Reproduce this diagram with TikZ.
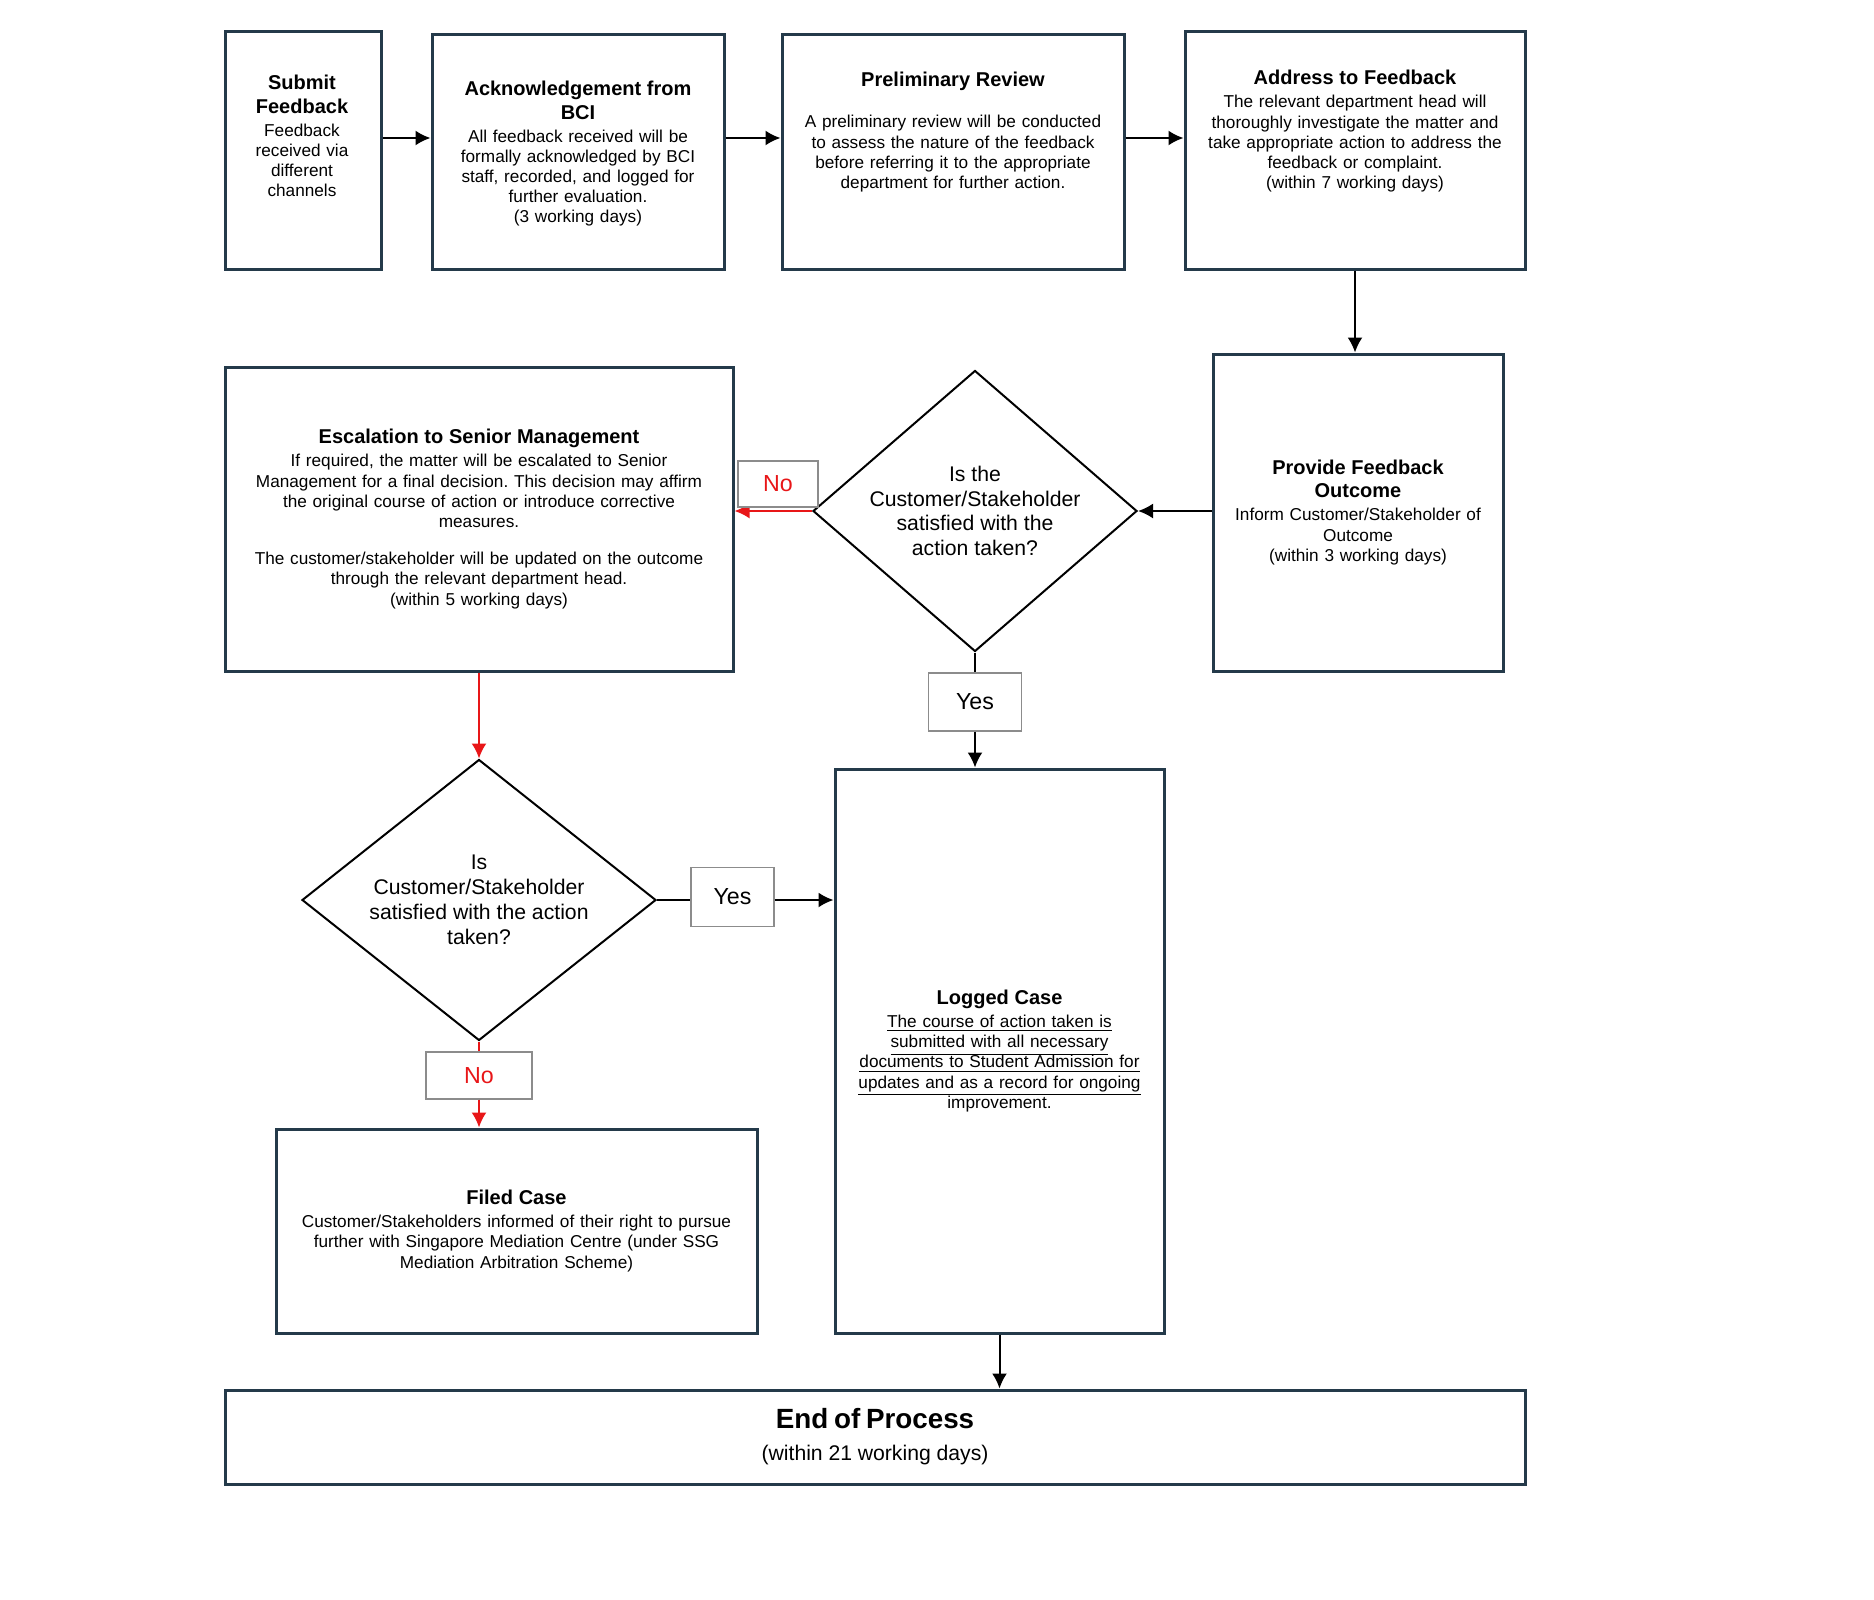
\documentclass[tikz,border=0pt]{standalone}
\usepackage{fontspec}
\setmainfont{Liberation Sans}
\usetikzlibrary{arrows.meta,shapes.geometric,positioning}
\definecolor{frame}{HTML}{243A4A}
\definecolor{noRed}{RGB}{232,22,24}
\definecolor{tagGray}{HTML}{8C8C8C}
\newcommand\heading[1]{{\bfseries\fontsize{10}{11.6}\selectfont #1\par}\vspace{1.4pt}}
\tikzset{
  card/.style={draw=frame, line width=1.5pt, fill=white, inner sep=0pt},
  words/.style={inner sep=0pt, align=center, font=\frenchspacing\fontsize{8.6}{10.1}\selectfont},
  ask/.style={diamond, draw=black, line width=1pt, inner sep=-3pt, align=center,
    font=\fontsize{10.6}{12.4}\selectfont},
  tag/.style={draw=tagGray, line width=0.7pt, fill=white, inner sep=0pt,
    font=\fontsize{11.6}{13}\selectfont},
  flow/.style={line width=1pt, ->},
  noflow/.style={line width=1pt, ->, draw=noRed, fill=noRed},
}
\begin{document}
\begin{tikzpicture}[x=0.5pt, y=-0.5pt, >={Latex[length=7.5pt,width=7.5pt]}]
\useasboundingbox (0,0) rectangle (1874,1600);
% top row
\node[card, minimum width=78pt, minimum height=118.5pt] (submit) at (303,150.5) {};
\node[words, text width=74pt, anchor=north] (submitTxt) at (302,75)
  {\heading{Submit\\Feedback}Feedback\\received via\\different\\channels};
\node[card, minimum width=146pt, minimum height=117pt] (ack) at (578,152) {};
\node[words, text width=140pt, anchor=north] (ackTxt) at (578,81)
  {\heading{Acknowledgement from\\BCI}All feedback received will be\\formally acknowledged by BCI\\staff, recorded, and logged for\\further evaluation.\\(3 working days)};
\node[card, minimum width=171pt, minimum height=117pt] (prelim) at (953,152) {};
\node[words, text width=165pt, anchor=north] (prelimTxt) at (953,72)
  {\heading{Preliminary Review}\vspace{9pt}A preliminary review will be conducted\\to assess the nature of the feedback\\before referring it to the appropriate\\department for further action.};
\node[card, minimum width=170pt, minimum height=118.5pt] (address) at (1355,150.5) {};
\node[words, text width=165pt, anchor=north] (addressTxt) at (1355,70)
  {\heading{Address to Feedback}The relevant department head will\\thoroughly investigate the matter and\\take appropriate action to address the\\feedback or complaint.\\(within 7 working days)};
% middle row
\node[card, words, text width=140pt, minimum width=145pt, minimum height=158.5pt] (outcome) at (1358,512.5)
  {\heading{Provide Feedback\\Outcome}Inform Customer/Stakeholder of\\Outcome\\(within 3 working days)};
\node[ask, aspect=1.15, minimum width=162pt, minimum height=140.5pt] (ask1) at (975,511)
  {Is the\\Customer/Stakeholder\\satisfied with the\\action taken?};
\node[card, words, text width=245pt, minimum width=254pt, minimum height=152pt] (escalate) at (479,519)
  {\heading{Escalation to Senior Management}If required, the matter will be escalated to Senior\\Management for a final decision. This decision may affirm\\the original course of action or introduce corrective\\measures.\par\vspace{8.5pt}The customer/stakeholder will be updated on the outcome\\through the relevant department head.\\(within 5 working days)};
% lower part
\node[card, words, text width=160pt, minimum width=164.5pt, minimum height=282pt] (logged) at (999.5,1051)
  {\heading{Logged Case}\underline{The course of action taken is}\\\underline{submitted with all necessary}\\\underline{documents to Student Admission for}\\\underline{updates and as a record for ongoing}\\improvement.};
\node[ask, aspect=1.26, minimum width=177pt, minimum height=140.5pt] (ask2) at (479,900)
  {Is\\Customer/Stakeholder\\satisfied with the action\\taken?};
\node[card, words, text width=235pt, minimum width=240.5pt, minimum height=102pt] (filed) at (516.5,1231)
  {\heading{Filed Case}Customer/Stakeholders informed of their right to pursue\\further with Singapore Mediation Centre (under SSG\\Mediation Arbitration Scheme)};
\node[card, words, text width=640pt, minimum width=650pt, minimum height=47pt] (finish) at (875,1437)
  {{\bfseries\fontsize{13.9}{16}\selectfont End of Process\par}\vspace{3.5pt}{\fontsize{10.6}{12.4}\selectfont(within 21 working days)\par}};
% connectors
\coordinate (r1) at ([yshift=6.25pt]submit.east);
\draw[flow] (r1) -- (r1 -| ack.west);
\draw[flow] (r1 -| ack.east) -- (r1 -| prelim.west);
\draw[flow] (r1 -| prelim.east) -- (r1 -| address.west);
\draw[flow] (address.south) -- (address.south |- outcome.north);
\draw[flow] (outcome.west |- ask1.east) -- (ask1.east);
\draw[noflow] (ask1.west) -- (ask1.west -| escalate.east);
\draw[noflow] (escalate.south) -- (ask2.north);
\node[tag, minimum width=40pt, minimum height=23pt, text=noRed] (no1) at (778,484) {No};
\node[tag, minimum width=46.5pt, minimum height=29pt] (yes1) at (975,702) {Yes};
\node[tag, minimum width=41.5pt, minimum height=29.5pt] (yes2) at (732.5,897) {Yes};
\node[tag, minimum width=53pt, minimum height=23.5pt, text=noRed] (no2) at (479,1075.5) {No};
\draw[line width=1pt] (ask1.south) -- (yes1.north);
\draw[flow] (yes1.south) -- (yes1.south |- logged.north);
\draw[line width=1pt] (ask2.east) -- (ask2.east -| yes2.west);
\draw[flow] (ask2.east -| yes2.east) -- (ask2.east -| logged.west);
\draw[noRed, line width=1pt] (ask2.south) -- (no2.north);
\draw[noflow] (no2.south) -- (no2.south |- filed.north);
\draw[flow] (logged.south) -- (logged.south |- finish.north);
\end{tikzpicture}
\end{document}
